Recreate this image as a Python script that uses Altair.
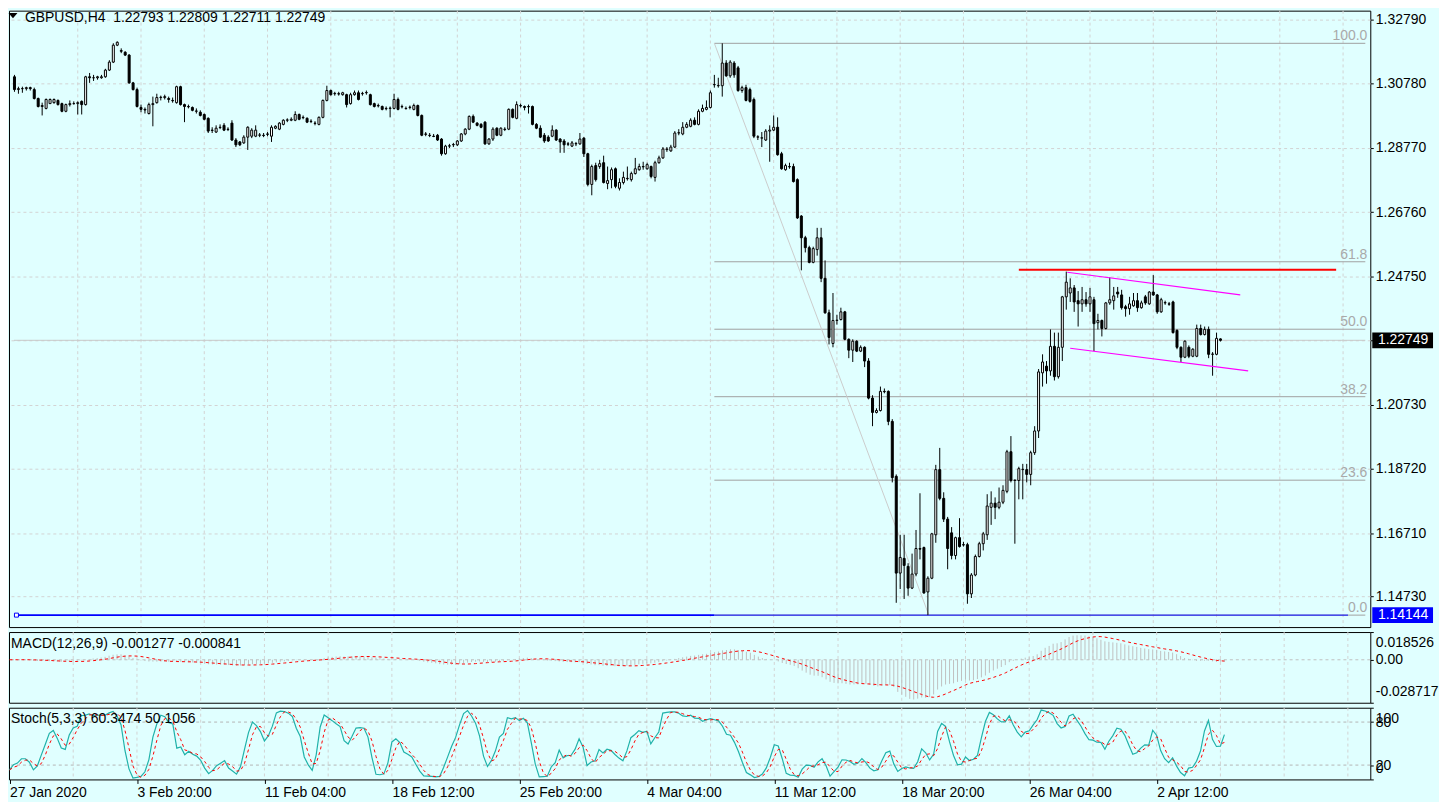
import json
import altair as alt
import pandas as pd

# ---------------- data ----------------
opens = [
    1.3100, 1.3060, 1.3063, 1.3063, 1.3066, 1.3060, 1.3032, 1.3007, 1.3001, 1.3016,
    1.3019, 1.3026, 1.3016, 1.2992, 1.3013, 1.3016, 1.3016, 1.3023, 1.3013, 1.3100,
    1.3097, 1.3097, 1.3097, 1.3100, 1.3121, 1.3146, 1.3199, 1.3182, 1.3177, 1.3168,
    1.3081, 1.3060, 1.3004, 1.2998, 1.2985, 1.3013, 1.3019, 1.3035, 1.3035, 1.3032,
    1.3026, 1.3019, 1.3069, 1.3013, 1.3007, 1.3004, 1.2992, 1.2989, 1.2982, 1.2970,
    1.2933, 1.2927, 1.2942, 1.2948, 1.2936, 1.2955, 1.2902, 1.2896, 1.2893, 1.2911,
    1.2914, 1.2914, 1.2917, 1.2917, 1.2921, 1.2914, 1.2939, 1.2936, 1.2951, 1.2964,
    1.2964, 1.2964, 1.2982, 1.2973, 1.2970, 1.2961, 1.2955, 1.2951, 1.2973, 1.3026,
    1.3057, 1.3047, 1.3047, 1.3044, 1.3044, 1.3016, 1.3044, 1.3050, 1.3047, 1.3050,
    1.3044, 1.3016, 1.3010, 1.3007, 1.3001, 1.3001, 1.3001, 1.3029, 1.3007, 1.3001,
    1.3004, 1.2998, 1.3010, 1.2979, 1.2921, 1.2917, 1.2914, 1.2917, 1.2905, 1.2859,
    1.2883, 1.2887, 1.2887, 1.2899, 1.2921, 1.2936, 1.2976, 1.2955, 1.2951, 1.2958,
    1.2890, 1.2905, 1.2939, 1.2917, 1.2936, 1.2936, 1.2998, 1.2970, 1.3010, 1.3007,
    1.3007, 1.3007, 1.2951, 1.2939, 1.2917, 1.2911, 1.2914, 1.2933, 1.2905, 1.2899,
    1.2890, 1.2883, 1.2890, 1.2890, 1.2908, 1.2859, 1.2763, 1.2822, 1.2819, 1.2831,
    1.2766, 1.2778, 1.2812, 1.2751, 1.2769, 1.2782, 1.2778, 1.2797, 1.2809, 1.2819,
    1.2812, 1.2819, 1.2785, 1.2831, 1.2846, 1.2872, 1.2868, 1.2880, 1.2924, 1.2921,
    1.2942, 1.2945, 1.2964, 1.2951, 1.2992, 1.2998, 1.3004, 1.3075, 1.3072, 1.3072,
    1.3143, 1.3103, 1.3143, 1.3128, 1.3057, 1.3066, 1.3060, 1.3029, 1.2911, 1.2908,
    1.2902, 1.2930, 1.2933, 1.2942, 1.2859, 1.2809, 1.2819, 1.2819, 1.2778, 1.2664,
    1.2596, 1.2565, 1.2519, 1.2559, 1.2596, 1.2469, 1.2361, 1.2265, 1.2337, 1.2340,
    1.2364, 1.2278, 1.2244, 1.2272, 1.2241, 1.2253, 1.2210, 1.2094, 1.2049, 1.2055,
    1.2115, 1.2115, 1.2021, 1.1849, 1.1546, 1.1592, 1.1567, 1.1499, 1.1543, 1.1623,
    1.1626, 1.1487, 1.1530, 1.1666, 1.1870, 1.1780, 1.1715, 1.1672, 1.1601, 1.1657,
    1.1635, 1.1635, 1.1481, 1.1540, 1.1598, 1.1638, 1.1666, 1.1752, 1.1765, 1.1752,
    1.1768, 1.1802, 1.1926, 1.1836, 1.1836, 1.1870, 1.1870, 1.1855, 1.1923, 1.1991,
    1.2173, 1.2194, 1.2179, 1.2256, 1.2161, 1.2253, 1.2411, 1.2423, 1.2439, 1.2399,
    1.2389, 1.2402, 1.2389, 1.2402, 1.2330, 1.2337, 1.2312, 1.2392, 1.2399, 1.2426,
    1.2417, 1.2380, 1.2374, 1.2383, 1.2399, 1.2377, 1.2411, 1.2389, 1.2426, 1.2417,
    1.2364, 1.2392, 1.2389, 1.2395, 1.2306, 1.2253, 1.2222, 1.2253, 1.2225, 1.2225,
    1.2312, 1.2293, 1.2309, 1.2231, 1.2231, 1.22793,
]
highs = [
    1.3106, 1.3069, 1.3069, 1.3069, 1.3069, 1.3066, 1.3035, 1.3019, 1.3032, 1.3032,
    1.3032, 1.3029, 1.3019, 1.3016, 1.3026, 1.3023, 1.3023, 1.3026, 1.3103, 1.3112,
    1.3106, 1.3103, 1.3106, 1.3125, 1.3152, 1.3205, 1.3211, 1.3189, 1.3180, 1.3171,
    1.3084, 1.3066, 1.3013, 1.3004, 1.3019, 1.3038, 1.3047, 1.3041, 1.3044, 1.3038,
    1.3035, 1.3072, 1.3072, 1.3016, 1.3013, 1.3007, 1.3001, 1.2995, 1.2985, 1.2973,
    1.2942, 1.2948, 1.2951, 1.2955, 1.2942, 1.2964, 1.2908, 1.2899, 1.2917, 1.2945,
    1.2939, 1.2948, 1.2924, 1.2924, 1.2927, 1.2948, 1.2948, 1.2958, 1.2967, 1.2970,
    1.2973, 1.2992, 1.2985, 1.2979, 1.2973, 1.2967, 1.2961, 1.2976, 1.3029, 1.3072,
    1.3060, 1.3053, 1.3053, 1.3053, 1.3047, 1.3050, 1.3057, 1.3057, 1.3053, 1.3057,
    1.3047, 1.3019, 1.3016, 1.3010, 1.3007, 1.3007, 1.3047, 1.3035, 1.3013, 1.3007,
    1.3010, 1.3016, 1.3013, 1.2982, 1.2927, 1.2924, 1.2921, 1.2921, 1.2908, 1.2887,
    1.2890, 1.2893, 1.2902, 1.2924, 1.2939, 1.2979, 1.2982, 1.2958, 1.2955, 1.2961,
    1.2908, 1.2942, 1.2942, 1.2942, 1.2942, 1.3001, 1.3001, 1.3023, 1.3016, 1.3010,
    1.3013, 1.3010, 1.2955, 1.2948, 1.2924, 1.2917, 1.2948, 1.2936, 1.2908, 1.2905,
    1.2896, 1.2899, 1.2896, 1.2924, 1.2911, 1.2862, 1.2825, 1.2831, 1.2840, 1.2853,
    1.2819, 1.2816, 1.2816, 1.2782, 1.2803, 1.2819, 1.2803, 1.2846, 1.2828, 1.2834,
    1.2831, 1.2822, 1.2837, 1.2853, 1.2880, 1.2880, 1.2887, 1.2930, 1.2936, 1.2958,
    1.2958, 1.2970, 1.2973, 1.2998, 1.3013, 1.3026, 1.3057, 1.3106, 1.3097, 1.32048,
    1.3152, 1.3152, 1.3149, 1.3134, 1.3072, 1.3075, 1.3066, 1.3035, 1.2917, 1.2927,
    1.2936, 1.2948, 1.2979, 1.2973, 1.2865, 1.2828, 1.2831, 1.2828, 1.2782, 1.2667,
    1.2602, 1.2571, 1.2568, 1.2627, 1.2627, 1.2525, 1.2371, 1.2423, 1.2355, 1.2377,
    1.2367, 1.2281, 1.2278, 1.2275, 1.2259, 1.2256, 1.2219, 1.2103, 1.2062, 1.2130,
    1.2124, 1.2118, 1.2028, 1.1855, 1.1666, 1.1666, 1.1577, 1.1607, 1.1681, 1.1796,
    1.1629, 1.1536, 1.1672, 1.1885, 1.1938, 1.1799, 1.1722, 1.1690, 1.1660, 1.1718,
    1.1644, 1.1641, 1.1546, 1.1604, 1.1644, 1.1675, 1.1793, 1.1802, 1.1783, 1.1814,
    1.1821, 1.1932, 1.1975, 1.1839, 1.1879, 1.1888, 1.1888, 1.1929, 1.2006, 1.2185,
    1.2231, 1.2210, 1.2309, 1.2299, 1.2299, 1.2414, 1.2490, 1.2469, 1.2448, 1.2429,
    1.2442, 1.2426, 1.2439, 1.2411, 1.2358, 1.2340, 1.2395, 1.2472, 1.2442, 1.2442,
    1.2433, 1.2386, 1.2411, 1.2423, 1.2423, 1.2399, 1.2417, 1.2429, 1.2479, 1.2420,
    1.2408, 1.2399, 1.2395, 1.2399, 1.2309, 1.2256, 1.2275, 1.2259, 1.2250, 1.2324,
    1.2324, 1.2318, 1.2318, 1.2238, 1.2299, 1.22809,
]
lows = [
    1.3053, 1.3047, 1.3050, 1.3057, 1.3057, 1.3029, 1.3004, 1.2979, 1.2998, 1.3016,
    1.3016, 1.3010, 1.2989, 1.2989, 1.3007, 1.3013, 1.2982, 1.2982, 1.3010, 1.3081,
    1.3087, 1.3091, 1.3094, 1.3097, 1.3118, 1.3143, 1.3196, 1.3174, 1.3165, 1.3078,
    1.3057, 1.3004, 1.2989, 1.2985, 1.2982, 1.2945, 1.3016, 1.3026, 1.3029, 1.3019,
    1.3019, 1.3016, 1.3010, 1.2958, 1.3001, 1.2992, 1.2985, 1.2976, 1.2964, 1.2924,
    1.2924, 1.2924, 1.2936, 1.2930, 1.2930, 1.2899, 1.2880, 1.2883, 1.2890, 1.2871,
    1.2908, 1.2911, 1.2911, 1.2911, 1.2914, 1.2896, 1.2936, 1.2933, 1.2948, 1.2958,
    1.2961, 1.2961, 1.2964, 1.2967, 1.2955, 1.2955, 1.2948, 1.2948, 1.2970, 1.3023,
    1.3041, 1.3041, 1.3041, 1.3041, 1.3004, 1.3013, 1.3041, 1.3026, 1.3041, 1.3044,
    1.3010, 1.3004, 1.3004, 1.2995, 1.2995, 1.2973, 1.2998, 1.2995, 1.3001, 1.2998,
    1.2998, 1.2995, 1.2976, 1.2914, 1.2914, 1.2911, 1.2911, 1.2899, 1.2853, 1.2856,
    1.2877, 1.2880, 1.2883, 1.2896, 1.2917, 1.2933, 1.2955, 1.2945, 1.2939, 1.2887,
    1.2887, 1.2899, 1.2914, 1.2914, 1.2930, 1.2933, 1.2970, 1.2967, 1.3004, 1.2995,
    1.2985, 1.2948, 1.2936, 1.2908, 1.2893, 1.2896, 1.2911, 1.2899, 1.2862, 1.2862,
    1.2883, 1.2880, 1.2883, 1.2887, 1.2849, 1.2757, 1.2729, 1.2772, 1.2812, 1.2766,
    1.2748, 1.2751, 1.2751, 1.2744, 1.2763, 1.2775, 1.2772, 1.2794, 1.2806, 1.2809,
    1.2809, 1.2782, 1.2772, 1.2828, 1.2843, 1.2865, 1.2865, 1.2877, 1.2917, 1.2917,
    1.2939, 1.2942, 1.2948, 1.2948, 1.2989, 1.2995, 1.3001, 1.3066, 1.3066, 1.3038,
    1.3100, 1.3097, 1.3097, 1.3053, 1.3050, 1.3023, 1.3019, 1.2908, 1.2902, 1.2880,
    1.2899, 1.2834, 1.2930, 1.2853, 1.2809, 1.2806, 1.2812, 1.2769, 1.2655, 1.2494,
    1.2550, 1.2516, 1.2516, 1.2540, 1.2457, 1.2358, 1.2262, 1.2253, 1.2324, 1.2337,
    1.2275, 1.2219, 1.2207, 1.2238, 1.2238, 1.2191, 1.2090, 1.2006, 1.2046, 1.2052,
    1.2109, 1.2009, 1.1830, 1.1453, 1.1496, 1.1465, 1.1475, 1.1496, 1.1536, 1.1589,
    1.1481, 1.14144, 1.1527, 1.1641, 1.1774, 1.1706, 1.1558, 1.1589, 1.1589, 1.1626,
    1.1629, 1.1450, 1.1468, 1.1536, 1.1595, 1.1617, 1.1650, 1.1697, 1.1715, 1.1746,
    1.1762, 1.1796, 1.1830, 1.1638, 1.1777, 1.1777, 1.1830, 1.1821, 1.1916, 1.1969,
    1.2130, 1.2139, 1.2164, 1.2149, 1.2155, 1.2210, 1.2371, 1.2395, 1.2364, 1.2318,
    1.2364, 1.2380, 1.2364, 1.2241, 1.2309, 1.2287, 1.2309, 1.2386, 1.2371, 1.2408,
    1.2371, 1.2349, 1.2355, 1.2380, 1.2364, 1.2374, 1.2386, 1.2386, 1.2414, 1.2358,
    1.2361, 1.2386, 1.2383, 1.2296, 1.2247, 1.2207, 1.2219, 1.2219, 1.2222, 1.2222,
    1.2290, 1.2290, 1.2219, 1.2164, 1.2228, 1.22711,
]
closes = [
    1.3060, 1.3063, 1.3063, 1.3066, 1.3063, 1.3032, 1.3007, 1.3010, 1.3029, 1.3029,
    1.3029, 1.3013, 1.2992, 1.3013, 1.3016, 1.3016, 1.3019, 1.3013, 1.3100, 1.3097,
    1.3097, 1.3100, 1.3100, 1.3121, 1.3146, 1.3199, 1.3208, 1.3180, 1.3168, 1.3081,
    1.3060, 1.3007, 1.2998, 1.2996, 1.3013, 1.3016, 1.3035, 1.3036, 1.3038, 1.3029,
    1.3025, 1.3069, 1.3013, 1.3007, 1.3006, 1.2995, 1.2993, 1.2979, 1.2967, 1.2930,
    1.2932, 1.2939, 1.2941, 1.2933, 1.2935, 1.2902, 1.2887, 1.2887, 1.2911, 1.2942,
    1.2933, 1.2933, 1.2918, 1.2916, 1.2920, 1.2942, 1.2945, 1.2955, 1.2964, 1.2965,
    1.2967, 1.2982, 1.2967, 1.2972, 1.2958, 1.2960, 1.2954, 1.2973, 1.3026, 1.3057,
    1.3044, 1.3048, 1.3046, 1.3050, 1.3013, 1.3044, 1.3050, 1.3029, 1.3048, 1.3051,
    1.3013, 1.3007, 1.3009, 1.2998, 1.3000, 1.3002, 1.3029, 1.2998, 1.3006, 1.3000,
    1.3005, 1.3010, 1.2979, 1.2917, 1.2920, 1.2916, 1.2913, 1.2902, 1.2859, 1.2883,
    1.2884, 1.2888, 1.2899, 1.2921, 1.2936, 1.2976, 1.2958, 1.2948, 1.2942, 1.2890,
    1.2905, 1.2936, 1.2917, 1.2939, 1.2935, 1.2998, 1.2973, 1.3013, 1.3009, 1.3004,
    1.3006, 1.2951, 1.2939, 1.2911, 1.2899, 1.2899, 1.2933, 1.2902, 1.2896, 1.2887,
    1.2889, 1.2893, 1.2891, 1.2905, 1.2859, 1.2763, 1.2819, 1.2778, 1.2828, 1.2769,
    1.2775, 1.2809, 1.2757, 1.2769, 1.2785, 1.2781, 1.2797, 1.2812, 1.2819, 1.2818,
    1.2825, 1.2788, 1.2831, 1.2846, 1.2874, 1.2874, 1.2880, 1.2924, 1.2925, 1.2942,
    1.2951, 1.2964, 1.2951, 1.2992, 1.3001, 1.3004, 1.3050, 1.3076, 1.3073, 1.3143,
    1.3103, 1.3146, 1.3106, 1.3057, 1.3066, 1.3026, 1.3023, 1.2914, 1.2912, 1.2909,
    1.2930, 1.2933, 1.2942, 1.2856, 1.2812, 1.2822, 1.2818, 1.2772, 1.2658, 1.2596,
    1.2565, 1.2519, 1.2562, 1.2596, 1.2469, 1.2361, 1.2284, 1.2337, 1.2338, 1.2364,
    1.2278, 1.2244, 1.2272, 1.2241, 1.2253, 1.2210, 1.2094, 1.2049, 1.2055, 1.2115,
    1.2114, 1.2021, 1.1845, 1.1546, 1.1595, 1.1570, 1.1499, 1.1543, 1.1623, 1.1621,
    1.1484, 1.1530, 1.1669, 1.1870, 1.1780, 1.1715, 1.1623, 1.1601, 1.1657, 1.1629,
    1.1634, 1.1481, 1.1540, 1.1598, 1.1638, 1.1669, 1.1756, 1.1765, 1.1752, 1.1768,
    1.1805, 1.1926, 1.1836, 1.1837, 1.1873, 1.1871, 1.1855, 1.1923, 1.1991, 1.2176,
    1.2207, 1.2179, 1.2256, 1.2161, 1.2253, 1.2411, 1.2457, 1.2439, 1.2395, 1.2389,
    1.2402, 1.2389, 1.2411, 1.2327, 1.2337, 1.2312, 1.2392, 1.2402, 1.2414, 1.2420,
    1.2377, 1.2374, 1.2389, 1.2399, 1.2377, 1.2392, 1.2392, 1.2426, 1.2417, 1.2364,
    1.2402, 1.2393, 1.2388, 1.2299, 1.2253, 1.2222, 1.2272, 1.2225, 1.2247, 1.2312,
    1.2293, 1.2309, 1.2231, 1.2232, 1.2281, 1.22749,
]

time_label_bars = [0, 32, 64, 96, 128, 160, 192, 224, 256, 288]
time_labels = ["27 Jan 2020", "3 Feb 20:00", "11 Feb 04:00", "18 Feb 12:00",
               "25 Feb 20:00", "4 Mar 04:00", "11 Mar 12:00", "18 Mar 20:00",
               "26 Mar 04:00", "2 Apr 12:00"]
grid_bars = [16, 32, 48, 64, 80, 96, 112, 128, 144, 160, 176, 192, 208, 224,
             240, 256, 272, 288, 304, 320, 336]
price_ticks = [1.32790, 1.30780, 1.28770, 1.26760, 1.24750, 1.22740,
               1.20730, 1.18720, 1.16710, 1.14730]

fib_ratios = [100.0, 61.8, 50.0, 38.2, 23.6, 0.0]
fib_high, fib_low = 1.32048, 1.14144
fib_start_bar, fib_low_bar = 177, 231.25
support_level = 1.14144
support_end_bar = 337.25
bid_price = 1.22749
resistance_level = 1.2496
resistance_bars = [254, 334.25]
upper_channel_bars = [266.25, 310]
upper_channel_prices = [1.2488, 1.2417]
lower_channel_bars = [267, 312]
lower_channel_prices = [1.2250, 1.2179]

title_text = "GBPUSD,H4\u00a0\u00a01.22793 1.22809 1.22711 1.22749"
macd_text = "MACD(12,26,9) -0.001277 -0.000841"
stoch_text = "Stoch(5,3,3) 60.3474 50.1056"
macd_ticks = [-0.028717, 0.0, 0.018526]
stoch_ticks = [0, 20, 80, 100]
stoch_levels = [20, 80]

# ---------------- frames ----------------
n = len(closes)
bars = pd.DataFrame({"i": list(range(n)), "o": opens, "h": highs, "l": lows, "c": closes})

ema_fast = bars["c"].ewm(span=12, adjust=False).mean()
ema_slow = bars["c"].ewm(span=26, adjust=False).mean()
bars["macd"] = ema_fast - ema_slow
bars["signal"] = bars["macd"].rolling(9, min_periods=1).mean()
bars["zero"] = 0.0
ll = bars["l"].rolling(5, min_periods=1).min()
hh = bars["h"].rolling(5, min_periods=1).max()
num = (bars["c"] - ll).rolling(3, min_periods=1).sum()
den = (hh - ll).rolling(3, min_periods=1).sum()
bars["k"] = 100 * num / den
bars["d"] = bars["k"].rolling(3, min_periods=1).mean()

# ---------------- layout / style ----------------
W, H1, H2, H3 = 1367, 619, 71, 72
XD = [-0.125, -0.125 + W / 4]
YD = [1.13770, 1.33071]
BG = "#E0FFFF"
GRID = "#d3d3d3"
FONT = "Liberation Sans"

xscale = alt.Scale(domain=XD, nice=False, zero=False)


def xq(field):
    return alt.X(f"{field}:Q", scale=xscale, axis=None)


price_axis = alt.Axis(
    orient="right", values=price_ticks,
    labelExpr="abs(datum.value - 1.2274) < 0.00001 ? '' : format(datum.value, '.5f')",
    grid=True, gridColor=GRID, gridDash=[3, 3], tickSize=3, labelPadding=2,
    domain=False, title=None)
pscale = alt.Scale(domain=YD, nice=False, zero=False)


def yp(field):
    return alt.Y(f"{field}:Q", scale=pscale, axis=price_axis)


vgrid_df = pd.DataFrame({"g": grid_bars})
main_vgrid = alt.Chart(vgrid_df).mark_rule(color=GRID, strokeDash=[3, 3]).encode(x=xq("g"))

bid_df = pd.DataFrame({"x0": [XD[0]], "x1": [XD[1]], "p": [bid_price]})
bid_line = alt.Chart(bid_df).mark_rule(color="#c8c8c8").encode(x=xq("x0"), x2="x1", y=yp("p"))

fib_df = pd.DataFrame({"r": fib_ratios})
fib_df["level"] = fib_low + fib_df["r"] / 100.0 * (fib_high - fib_low)
fib_df["x0"] = fib_start_bar
fib_df["x1"] = XD[1]
fib_df["label"] = [f"{r:.1f}" for r in fib_ratios]
fib_lines = alt.Chart(fib_df).mark_rule(color="#a0a0a0").encode(x=xq("x0"), x2="x1", y=yp("level"))
fib_labels = alt.Chart(fib_df).mark_text(
    align="right", baseline="alphabetic", dy=-3, color="#a9a9a9", fontSize=14, font=FONT
).encode(x=alt.value(W - 3), y=yp("level"), text="label:N")

diag_df = pd.DataFrame({"x0": [fib_start_bar], "x1": [fib_low_bar], "p0": [fib_high], "p1": [fib_low]})
diag = alt.Chart(diag_df).mark_rule(color="#cccccc").encode(x=xq("x0"), x2="x1", y=yp("p0"), y2="p1")

blue_thick_df = pd.DataFrame({"x0": [XD[0]], "x1": [fib_start_bar], "p": [support_level]})
blue_thin_df = pd.DataFrame({"x0": [fib_start_bar], "x1": [support_end_bar], "p": [support_level]})
blue_thick = alt.Chart(blue_thick_df).mark_rule(color="#0000ff", strokeWidth=2).encode(
    x=xq("x0"), x2="x1", y=yp("p"))
blue_thin = alt.Chart(blue_thin_df).mark_rule(color="#0000ff", strokeWidth=1).encode(
    x=xq("x0"), x2="x1", y=yp("p"))
anchor_df = pd.DataFrame({"x": [0.5], "p": [support_level]})
anchor = alt.Chart(anchor_df).mark_point(
    shape="square", size=16, filled=True, fill="white", stroke="#0000ff", strokeWidth=1, opacity=1
).encode(x=xq("x"), y=yp("p"))

wicks = alt.Chart(bars).mark_rule(color="black").encode(x=xq("i"), y=yp("l"), y2="h")
bodies = alt.Chart(bars).mark_bar(width=2, stroke="black", strokeWidth=1).encode(
    x=xq("i"), y=yp("o"), y2="c",
    fill=alt.condition("datum.c > datum.o", alt.value("white"), alt.value("black")))

red_df = pd.DataFrame({"x0": [resistance_bars[0]], "x1": [resistance_bars[1]], "p": [resistance_level]})
red_line = alt.Chart(red_df).mark_rule(color="#ff0000", strokeWidth=2).encode(
    x=xq("x0"), x2="x1", y=yp("p"))
chan_df = pd.DataFrame({
    "x0": [upper_channel_bars[0], lower_channel_bars[0]],
    "x1": [upper_channel_bars[1], lower_channel_bars[1]],
    "p0": [upper_channel_prices[0], lower_channel_prices[0]],
    "p1": [upper_channel_prices[1], lower_channel_prices[1]],
})
channel = alt.Chart(chan_df).mark_rule(color="#ff00ff", strokeWidth=1.2).encode(
    x=xq("x0"), x2="x1", y=yp("p0"), y2="p1")

title_df = pd.DataFrame({"t": [title_text]})
title = alt.Chart(title_df).mark_text(
    align="left", baseline="middle", fontSize=14, font=FONT, color="black"
).encode(x=alt.value(16), y=alt.value(7), text="t:N")
tri = alt.Chart(title_df).mark_point(
    shape="M-1,-0.6L1,-0.6L0,0.6Z", filled=True, color="black", size=81, opacity=1
).encode(x=alt.value(4), y=alt.value(5))

box_df = pd.DataFrame({
    "p": [bid_price, support_level],
    "label": ["1.22749", "1.14144"],
    "col": ["#000000", "#0000ff"],
})
box_df["top"] = box_df["p"] + 0.00247
box_df["bot"] = box_df["p"] - 0.00247
boxes = alt.Chart(box_df).mark_rect().encode(
    x=alt.value(W + 2), x2=alt.value(W + 63), y=yp("top"), y2="bot",
    fill=alt.Fill("col:N", scale=None))
box_text = alt.Chart(box_df).mark_text(
    color="white", align="center", baseline="middle", fontSize=14, font=FONT
).encode(x=alt.value(W + 33), y=yp("p"), text="label:N")

main = alt.layer(
    main_vgrid, bid_line, fib_lines, diag, blue_thick, blue_thin, anchor,
    wicks, bodies, red_line, channel, fib_labels, title, tri, boxes, box_text
).properties(width=W, height=H1)

# ---------------- MACD ----------------
macd_axis = alt.Axis(
    orient="right", values=macd_ticks,
    labelExpr="datum.value == 0 ? '0.00' : replace(format(datum.value, '.6f'), '\u2212', '-')",
    labelFlush=True, labelFlushOffset=-4, labelOverlap=False, grid=False, tickSize=3,
    labelPadding=2, domain=False, title=None)
mscale = alt.Scale(domain=[macd_ticks[0], macd_ticks[2]], nice=False, zero=False)


def ym(field):
    return alt.Y(f"{field}:Q", scale=mscale, axis=macd_axis)


zero_df = pd.DataFrame({"z": [0.0]})
macd_vgrid = alt.Chart(vgrid_df).mark_rule(color=GRID, strokeDash=[3, 3]).encode(x=xq("g"))
macd_zero = alt.Chart(zero_df).mark_rule(color="#c0c0c0", strokeDash=[3, 3]).encode(y=ym("z"))
macd_hist = alt.Chart(bars).mark_rule(color="#c0c0c0", clip=True).encode(
    x=xq("i"), y=ym("macd"), y2="zero")
macd_sig = alt.Chart(bars).mark_line(color="#ff0000", strokeDash=[3, 3], strokeWidth=1, clip=True).encode(
    x=xq("i"), y=ym("signal"))
macd_lbl = alt.Chart(pd.DataFrame({"t": [macd_text]})).mark_text(
    align="left", baseline="middle", fontSize=14, font=FONT, color="black"
).encode(x=alt.value(2), y=alt.value(12), text="t:N")
macd = alt.layer(macd_vgrid, macd_zero, macd_hist, macd_sig, macd_lbl).properties(width=W, height=H2)

# ---------------- Stochastic ----------------
time_axis = alt.Axis(
    orient="bottom", values=time_label_bars,
    labelExpr=f"{json.dumps(time_labels)}[round(datum.value / 32)]",
    labelAlign="left", labelFlush=False, labelBaseline="top", labelOverlap=False,
    tickSize=4, labelPadding=2, domain=False, grid=False, title=None)


def xs(field):
    return alt.X(f"{field}:Q", scale=xscale, axis=time_axis)


stoch_axis = alt.Axis(
    orient="right", values=stoch_ticks, labelFlush=True, labelFlushOffset=-4,
    labelOverlap=False, grid=False, tickSize=3, labelPadding=2, domain=False, title=None)
sscale = alt.Scale(domain=[0, 100], nice=False, zero=False)


def ys(field):
    return alt.Y(f"{field}:Q", scale=sscale, axis=stoch_axis)


lvl_df = pd.DataFrame({"v": stoch_levels})
st_vgrid = alt.Chart(vgrid_df).mark_rule(color=GRID, strokeDash=[3, 3]).encode(x=xs("g"))
st_lvls = alt.Chart(lvl_df).mark_rule(color="#b4b4b4", strokeDash=[3, 3]).encode(y=ys("v"))
st_k = alt.Chart(bars).mark_line(color="#20B2AA", strokeWidth=1.2, clip=True).encode(x=xs("i"), y=ys("k"))
st_d = alt.Chart(bars).mark_line(color="#ff0000", strokeDash=[3, 3], strokeWidth=1, clip=True).encode(
    x=xs("i"), y=ys("d"))
st_lbl = alt.Chart(pd.DataFrame({"t": [stoch_text]})).mark_text(
    align="left", baseline="middle", fontSize=14, font=FONT, color="black"
).encode(x=alt.value(2), y=alt.value(11), text="t:N")
stoch = alt.layer(st_vgrid, st_lvls, st_k, st_d, st_lbl).properties(width=W, height=H3)

chart = alt.vconcat(main, macd, stoch, spacing=3).properties(
    padding={"left": 0, "top": 0, "right": 0, "bottom": 0}
).configure(
    background=BG, font=FONT
).configure_view(
    stroke="black", strokeWidth=1, fill=BG
).configure_axis(
    labelFontSize=14, labelColor="black", tickColor="black", labelFont=FONT
)

chart.save("out.html", embed_options={"renderer": "svg", "actions": False})
